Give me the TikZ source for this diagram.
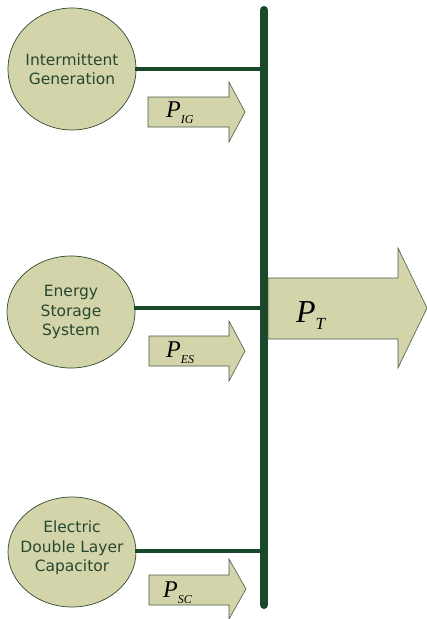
\documentclass[tikz,border=0pt]{standalone}
\usepackage{fontspec}
\setmainfont{Liberation Serif}
\newfontfamily\labelfont{DejaVu Sans}
\usetikzlibrary{shapes.geometric,calc}
\definecolor{busgreen}{RGB}{26,72,42}
\definecolor{unitfill}{RGB}{212,212,170}
\definecolor{unitedge}{RGB}{45,75,45}
\definecolor{unittext}{RGB}{38,72,48}
\tikzset{
  unit/.style={ellipse, draw=unitedge, line width=0.7pt, fill=unitfill,
    inner sep=0pt},
  unitlbl/.style={align=center, text=unittext, inner sep=0pt,
    font=\labelfont\fontsize{15.5}{19.5}\selectfont},
  feeder/.style={draw=busgreen, line width=4pt},
  busbar/.style={draw=busgreen, line width=8pt, line cap=round},
  flow/.style={draw=unitedge!70!gray, line width=0.6pt, fill=unitfill},
  flowlbl/.style={inner sep=0pt, anchor=base west}
}
\begin{document}
\begin{tikzpicture}[x=1pt,y=-1pt]
  \useasboundingbox (0,0) rectangle (427,619);

  % common bus
  \coordinate (bustop) at (264,10);
  \coordinate (busbot) at (264,605);
  \draw[busbar] (bustop) -- (busbot);

  % sources
  \node[unit, minimum width=128pt, minimum height=122pt] (ig) at (72,69) {};
  \node[unitlbl] (igtext) at (72,69) {Intermittent\\Generation};
  \node[unit, minimum width=128pt, minimum height=112pt] (es) at (71,312) {};
  \node[unitlbl] (estext) at (71,312) {Energy\\Storage\\System};
  \node[unit, minimum width=128pt, minimum height=110pt] (sc) at (72,552) {};
  \node[unitlbl] (sctext) at (72,548) {Electric\\Double Layer\\Capacitor};

  % feeders to the bus
  \coordinate (igbus) at (264,69);
  \coordinate (esbus) at (264,308);
  \coordinate (scbus) at (264,551);
  \draw[feeder] ($(ig.east |- igbus)+(-1,0)$) -- (igbus);
  \draw[feeder] ($(es.east |- esbus)+(-1,0)$) -- (esbus);
  \draw[feeder] ($(sc.east |- scbus)+(-1,0)$) -- (scbus);

  % power flow arrows
  \draw[flow] (148,97) -- (229,97) -- (229,82) -- (245,112) -- (229,142)
    -- (229,127) -- (148,127) -- cycle;
  \draw[flow] (149,336) -- (229,336) -- (229,321) -- (245,351) -- (229,381)
    -- (229,366) -- (149,366) -- cycle;
  \draw[flow] (149,575) -- (229,575) -- (229,559) -- (246,589) -- (229,619)
    -- (229,605) -- (149,605) -- cycle;
  \draw[flow] (268,278) -- (398,278) -- (398,248) -- (427,308) -- (398,368)
    -- (398,339) -- (268,339) -- cycle;

  % flow labels
  \node[flowlbl] (pig) at (166,117)
    {\fontsize{24}{24}\selectfont\itshape P\raisebox{-6pt}{\fontsize{12}{12}\selectfont IG}};
  \node[flowlbl] (pes) at (166,357)
    {\fontsize{24}{24}\selectfont\itshape P\raisebox{-6pt}{\fontsize{12}{12}\selectfont ES}};
  \node[flowlbl] (psc) at (163,597)
    {\fontsize{24}{24}\selectfont\itshape P\raisebox{-6pt}{\fontsize{12}{12}\selectfont SC}};
  \node[flowlbl] (pt) at (296,322)
    {\fontsize{32}{32}\selectfont\itshape P\raisebox{-7pt}{\fontsize{17}{17}\selectfont T}};
\end{tikzpicture}
\end{document}
